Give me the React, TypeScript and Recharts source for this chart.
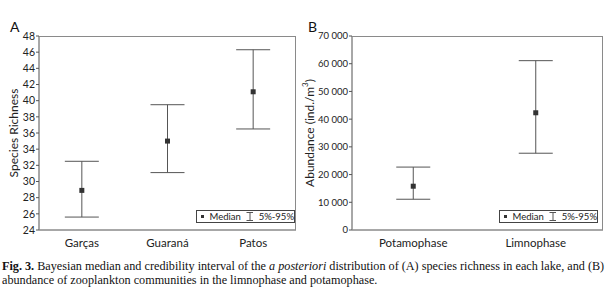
import React from 'react';
import { ComposedChart, Line, ErrorBar, XAxis, YAxis, CartesianGrid } from 'recharts';

// Panel A: species richness per lake
const lakes = ['Garças', 'Guaraná', 'Patos'];
const richMedian = [28.9, 35.0, 41.1];
const richLow = [25.6, 31.1, 36.5];
const richHigh = [32.5, 39.5, 46.3];
const richTicks = [24, 26, 28, 30, 32, 34, 36, 38, 40, 42, 44, 46, 48];

// Panel B: abundance per hydrological phase
const phases = ['Potamophase', 'Limnophase'];
const abMedian = [15800, 42300];
const abLow = [11100, 27700];
const abHigh = [22700, 61100];
const abTicks = [0, 10000, 20000, 30000, 40000, 50000, 60000, 70000];

const build = (names: string[], med: number[], lo: number[], hi: number[]) =>
  names.map((name, i) => ({ name, median: med[i], err: [med[i] - lo[i], hi[i] - med[i]] }));

const dataA = build(lakes, richMedian, richLow, richHigh);
const dataB = build(phases, abMedian, abLow, abHigh);

const FONT = 'Lato, "Open Sans", sans-serif';
const FRAME = '#8a8a8a';

const Square = (props: any) => {
  const { cx, cy, index } = props;
  if (cx == null || cy == null) return <g key={index} />;
  return <rect key={index} x={cx - 2.5} y={cy - 2.5} width={5} height={5} fill="#333" />;
};

const LegendBox = ({ left, top }: { left: number; top: number }) => (
  <div
    style={{
      position: 'absolute',
      left,
      top,
      border: '1px solid #444',
      height: 11,
      width: 97,
      background: '#fff',
      display: 'flex',
      alignItems: 'center',
      fontFamily: FONT,
      fontSize: 9.5,
      color: '#222',
      lineHeight: '11px',
    }}
  >
    <span style={{ display: 'inline-block', width: 3, height: 3, background: '#333', marginLeft: 4, marginRight: 6 }} />
    <span>Median</span>
    <svg width={8} height={9} style={{ marginLeft: 5, marginRight: 6 }}>
      <line x1={0.5} x2={7.5} y1={0.5} y2={0.5} stroke="#555" />
      <line x1={4} x2={4} y1={0.5} y2={8.5} stroke="#555" />
      <line x1={0.5} x2={7.5} y1={8.5} y2={8.5} stroke="#555" />
    </svg>
    <span>5%-95%</span>
  </div>
);

const yLabel = (text: React.ReactNode, dx: number) => (props: any) => {
  const vb = props.viewBox;
  const x = dx;
  const y = vb.y + vb.height / 2;
  return (
    <text
      x={x}
      y={y}
      transform={`rotate(-90 ${x} ${y})`}
      textAnchor="middle"
      dominantBaseline="central"
      fontFamily={FONT}
      fontSize={12}
      fill="#222"
    >
      {text}
    </text>
  );
};

const fmtAb = (v: number) => (v === 0 ? '0' : `${v / 1000} 000`);

function Panel({ data, ticks, domain, width, yWidth, right, label, labelX, fmt, tickFont, pad }: any) {
  return (
    <ComposedChart width={width} height={254} data={data} margin={{ top: 36, right, left: 0, bottom: 9 }}>
      <CartesianGrid
        stroke={FRAME}
        fill="none"
        horizontalCoordinatesGenerator={({ offset }: any) => [offset.top + 0.5, offset.top + offset.height]}
        verticalCoordinatesGenerator={({ offset }: any) => [offset.left, offset.left + offset.width - 0.5]}
      />
      <XAxis
        dataKey="name"
        scale="band"
        height={15}
        padding={pad}
        tickLine={false}
        axisLine={{ stroke: FRAME }}
        tick={{ fontSize: 11.5, fill: '#222', fontFamily: FONT }}
        tickMargin={3}
        interval={0}
      />
      <YAxis
        type="number"
        domain={domain}
        ticks={ticks}
        width={yWidth}
        interval={0}
        tickSize={3}
        tickMargin={1}
        tickFormatter={fmt}
        tickLine={{ stroke: '#555' }}
        axisLine={{ stroke: FRAME }}
        tick={{ fontSize: tickFont, fill: '#222', fontFamily: FONT }}
        label={{ content: yLabel(label, labelX) }}
      />
      <Line dataKey="median" stroke="none" dot={Square} activeDot={false} isAnimationActive={false}>
        <ErrorBar dataKey="err" width={17} stroke="#555" strokeWidth={1} direction="y" />
      </Line>
    </ComposedChart>
  );
}

export default function App() {
  return (
    <div style={{ position: 'absolute', left: 0, top: 0, width: 610, height: 294, background: '#fff', overflow: 'hidden' }}>
      <div style={{ position: 'absolute', left: 0, top: 0 }}>
        <Panel
          data={dataA}
          ticks={richTicks}
          domain={[24, 48]}
          width={305}
          yWidth={39}
          right={9}
          label="Species Richness"
          labelX={13}
          tickFont={10.5}
          pad={{ left: 0, right: 0 }}
        />
      </div>
      <div style={{ position: 'absolute', left: 300, top: 0 }}>
        <Panel
          data={dataB}
          ticks={abTicks}
          domain={[0, 70000]}
          width={310}
          yWidth={52}
          right={7}
          label={
            <>
              Abundance (ind./m<tspan dy={-4} fontSize={8}>3</tspan>
              <tspan dy={4}>)</tspan>
            </>
          }
          labelX={9}
          fmt={fmtAb}
          tickFont={9.5}
          pad={{ left: 0, right: 6 }}
        />
      </div>
      <LegendBox left={196} top={210} />
      <LegendBox left={499} top={210} />
      <div style={{ position: 'absolute', left: 10, top: 18, fontFamily: FONT, fontSize: 14, color: '#111' }}>A</div>
      <div style={{ position: 'absolute', left: 308, top: 18, fontFamily: FONT, fontSize: 14, color: '#111' }}>B</div>
      <div
        style={{
          position: 'absolute',
          left: 2,
          top: 259,
          width: 606,
          fontFamily: '"Liberation Serif", serif',
          fontSize: 12.2,
          lineHeight: '14px',
          color: '#111',
          whiteSpace: 'nowrap',
        }}
      >
        <div>
          <b>Fig. 3.</b> Bayesian median and credibility interval of the <i>a posteriori</i> distribution of (A) species
          richness in each lake, and (B)
        </div>
        <div>abundance of zooplankton communities in the limnophase and potamophase.</div>
      </div>
    </div>
  );
}
